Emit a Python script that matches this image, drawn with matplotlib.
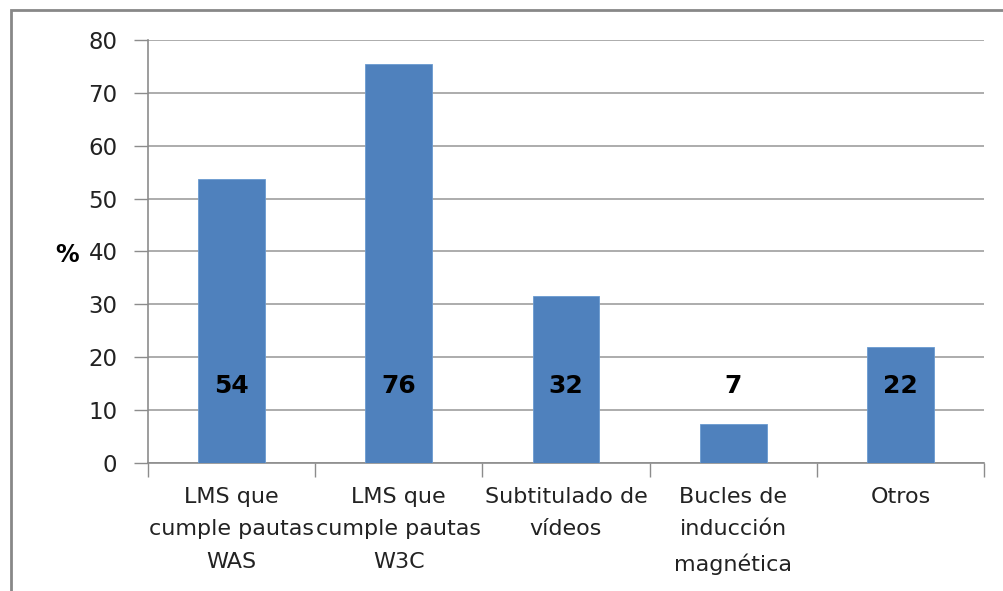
import matplotlib
matplotlib.use("Agg")
import matplotlib.pyplot as plt
from matplotlib.patches import Rectangle

categories = ["LMS que\ncumple pautas\nWAS", "LMS que\ncumple pautas\nW3C",
              "Subtitulado de\nvídeos", "Bucles de\ninducción\nmagnética", "Otros"]
values = [53.7, 75.5, 31.6, 7.4, 21.9]
labels = ["54", "76", "32", "7", "22"]
label_y = 14.5
yticks = [0, 10, 20, 30, 40, 50, 60, 70, 80]

plt.rcParams['font.family'] = ['DejaVu Sans']
fig = plt.figure(figsize=(10.04, 5.91), dpi=100)
ax = fig.add_axes([148/1004, 1-463/591, (984-148)/1004, (463-40)/591])

x = list(range(len(categories)))
ax.bar(x, values, width=0.4, color="#4f81bd", edgecolor="#6a9ad0", linewidth=0.6, zorder=3)
for xi, lab in zip(x, labels):
    ax.text(xi, label_y, lab, ha="center", va="center", fontsize=18, fontweight="bold", color="black", zorder=4)

ax.set_xlim(-0.5, len(categories) - 0.5)
ax.set_ylim(0, 80)
ax.set_yticks(yticks)
ax.set_yticklabels([str(v) for v in yticks], fontsize=16.5, color="#222222")
ax.yaxis.grid(True, color="#a6a6a6", linewidth=1.3, zorder=0)
ax.set_axisbelow(True)

ax.set_xticks([i - 0.5 for i in range(len(categories) + 1)], minor=False)
ax.set_xticklabels([])
ax.set_xticks(x, minor=True)
ax.set_xticklabels(categories, minor=True, fontsize=16, color="#222222", linespacing=1.8)
ax.tick_params(axis="x", which="minor", length=0, pad=17)
ax.tick_params(axis="x", which="major", length=10, width=1, color="#8c8c8c", direction="out")
ax.tick_params(axis="y", length=10, width=1, color="#8c8c8c", pad=12)

for s in ["top", "right"]:
    ax.spines[s].set_visible(False)
for s in ["left", "bottom"]:
    ax.spines[s].set_color("#8c8c8c")
    ax.spines[s].set_linewidth(1.2)

fig.text(67/1004, 1-255/591, "%", fontsize=17, fontweight="bold", ha="center", va="center")

fig.patches.append(Rectangle((11/1004, -0.1), 1.2, 1 - 10/591 + 0.1, transform=fig.transFigure,
                             fill=False, edgecolor="#888888", linewidth=2))

fig.savefig("out.png", dpi=100)
